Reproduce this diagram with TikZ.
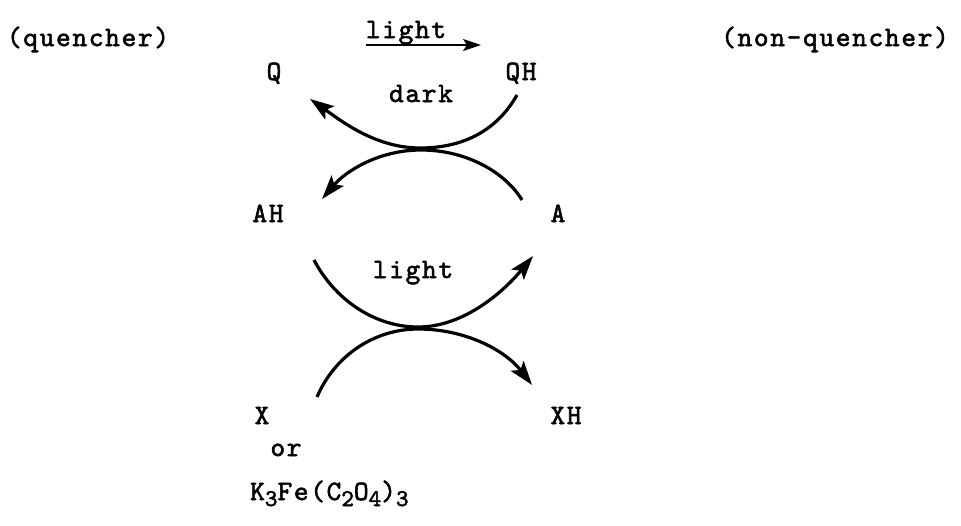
\documentclass[tikz,border=0pt]{standalone}
\usepackage{fontspec}
\newfontfamily\tw[FakeBold=2,LetterSpace=6]{lmmono10-regular.otf}
\usetikzlibrary{arrows.meta}
\newcommand{\lowsub}[1]{\raisebox{-0.5ex}{\fontsize{24}{24}\selectfont #1}}
\begin{document}
\begin{tikzpicture}[x=1pt,y=-1pt,
  lbl/.style={font=\tw\fontsize{28}{30}\selectfont, inner sep=0pt, anchor=base},
  arc/.style={line width=3.2pt},
  tip/.style={-{Stealth[length=24pt,width=16pt,inset=5pt]}}]
\useasboundingbox (0,0) rectangle (961,525);
\node[lbl] (quen) at (88,46) {(quencher)};
\node[lbl] (lighttop) at (406,38) {light};
\node[lbl] (nonq) at (835,46) {(non-quencher)};
\node[lbl] (Q) at (274,80) {Q};
\node[lbl] (QH) at (521,80) {QH};
\node[lbl] (dark) at (421,102) {dark};
\node[lbl] (AH) at (268,222) {AH};
\node[lbl] (A) at (558,222) {A};
\node[lbl] (lightmid) at (413,278) {light};
\node[lbl] (X) at (262,424) {X};
\node[lbl] (XH) at (566,424) {XH};
\node[lbl] (or) at (286,456) {or};
\node[lbl, anchor=base west] (K) at (250,500) {K\lowsub{3}Fe(C\lowsub{2}O\lowsub{4})\lowsub{3}};
% top reaction arrow
\coordinate (la) at (366,45);
\coordinate (lb) at (481,45);
\draw[line width=1.8pt, -{Stealth[length=18pt,width=12pt,inset=4pt]}] (la) -- (lb);
% arc QH -> Q
\coordinate (s1) at (517,95);
\coordinate (m1) at (420,148);
\coordinate (e1) at (310,99);
\draw[arc,tip] (s1) .. controls (500,125) and (470,148) .. (m1) .. controls (375,148) and (340,120) .. (e1);
% arc A -> AH
\coordinate (s2) at (522,200);
\coordinate (m2) at (421,150);
\coordinate (e2) at (322,199);
\draw[arc,tip] (s2) .. controls (505,172) and (466,150) .. (m2) .. controls (378,150) and (345,172) .. (e2);
% arc AH -> A
\coordinate (s3) at (314,260);
\coordinate (m3) at (418,327);
\coordinate (e3) at (533,256);
\draw[arc,tip] (s3) .. controls (335,300) and (375,327) .. (m3) .. controls (465,327) and (505,290) .. (e3);
% arc X -> XH
\coordinate (s4) at (317,397);
\coordinate (m4) at (418,329);
\coordinate (e4) at (532,385);
\draw[arc,tip] (s4) .. controls (335,355) and (375,329) .. (m4) .. controls (465,329) and (505,350) .. (e4);
\end{tikzpicture}
\end{document}
